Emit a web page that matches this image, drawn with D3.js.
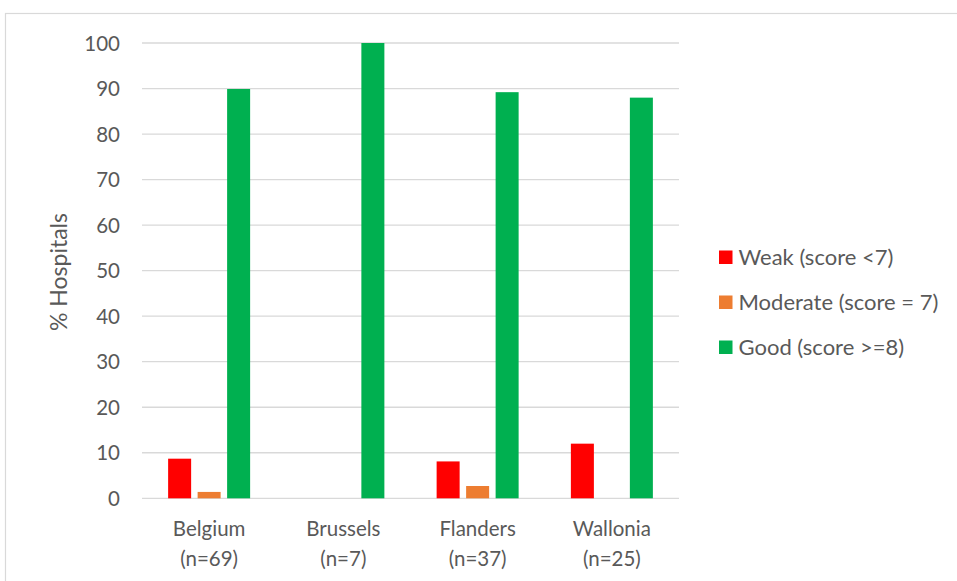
<!DOCTYPE html>
<html>
<head>
<meta charset="utf-8">
<script src="https://cdn.jsdelivr.net/npm/d3@7"></script>
<style>
  html, body { margin: 0; padding: 0; background: #fff; }
  svg { display: block; }
  text { font-family: Lato, "Open Sans", sans-serif; fill: #595959; }
</style>
</head>
<body>
<svg id="chart" width="957" height="581"></svg>
<script>
// Hospital scores by region (% of hospitals)
const regions = ["Belgium", "Brussels", "Flanders", "Wallonia"];
const regionCounts = ["(n=69)", "(n=7)", "(n=37)", "(n=25)"];
const seriesNames = ["Weak (score <7)", "Moderate (score = 7)", "Good (score >=8)"];
const weak = [8.7, 0, 8.1, 12];
const moderate = [1.4, 0, 2.7, 0];
const good = [89.9, 100, 89.2, 88];
const seriesColors = ["#FF0000", "#ED7D31", "#00B050"];
const yTicks = [0, 10, 20, 30, 40, 50, 60, 70, 80, 90, 100];

const seriesValues = [weak, moderate, good];

const svg = d3.select("#chart");

// Outer frame
svg.append("rect")
  .attr("x", 5.5).attr("y", 13.5)
  .attr("width", 1000).attr("height", 1000)
  .attr("fill", "none")
  .attr("stroke", "#d9d9d9")
  .attr("stroke-width", 1.2);

const plot = { left: 142, right: 679, top: 43, bottom: 498.3 };

const y = d3.scaleLinear().domain([0, 100]).range([plot.bottom, plot.top]);
const x0 = d3.scaleBand().domain(regions).range([plot.left, plot.right]).padding(0);
const groupWidth = 82;
const x1 = d3.scaleBand()
  .domain(seriesNames)
  .range([(x0.bandwidth() - groupWidth) / 2, (x0.bandwidth() + groupWidth) / 2])
  .paddingInner(0.22)
  .paddingOuter(0);

// Gridlines
svg.append("g")
  .selectAll("line")
  .data(yTicks)
  .join("line")
  .attr("x1", plot.left).attr("x2", plot.right)
  .attr("y1", d => y(d)).attr("y2", d => y(d))
  .attr("stroke", "#d9d9d9")
  .attr("stroke-width", 1.3);

// Y axis labels
const yAxis = d3.axisLeft(y).tickValues(yTicks).tickSize(0).tickPadding(0);
const yG = svg.append("g")
  .attr("transform", `translate(120,0)`)
  .call(yAxis);
yG.select(".domain").remove();
yG.selectAll("text")
  .attr("font-size", 20.5)
  .attr("font-family", "Lato, 'Open Sans', sans-serif")
  .attr("fill", "#595959")
  .attr("dy", "0.35em");

// Y axis title
svg.append("text")
  .attr("transform", "translate(67,272) rotate(-90)")
  .attr("text-anchor", "middle")
  .attr("font-size", 23)
  .text("% Hospitals");

// Bars
const groups = svg.append("g")
  .selectAll("g")
  .data(regions)
  .join("g")
  .attr("transform", d => `translate(${x0(d)},0)`);

groups.selectAll("rect")
  .data((d, i) => seriesNames.map((s, j) => ({ s, v: seriesValues[j][i], c: seriesColors[j] })))
  .join("rect")
  .filter(d => d.v > 0)
  .attr("x", d => x1(d.s))
  .attr("width", x1.bandwidth())
  .attr("y", d => y(d.v))
  .attr("height", d => y(0) - y(d.v))
  .attr("fill", d => d.c);

// Category labels (two lines)
const xLabels = svg.append("g")
  .selectAll("text")
  .data(regions)
  .join("text")
  .attr("text-anchor", "middle")
  .attr("font-size", 20.5)
  .attr("x", d => x0(d) + x0.bandwidth() / 2);
xLabels.append("tspan")
  .attr("x", d => x0(d) + x0.bandwidth() / 2)
  .attr("y", 536)
  .text(d => d);
xLabels.append("tspan")
  .attr("x", d => x0(d) + x0.bandwidth() / 2)
  .attr("y", 566)
  .text((d, i) => regionCounts[i]);

// Legend
const legend = svg.append("g")
  .selectAll("g")
  .data(seriesNames)
  .join("g")
  .attr("transform", (d, i) => `translate(719,${257 + i * 45})`);
legend.append("rect")
  .attr("x", 0).attr("y", -6.5)
  .attr("width", 13.5).attr("height", 13.5)
  .attr("fill", (d, i) => seriesColors[i]);
legend.append("text")
  .attr("x", 19.5)
  .attr("y", 0)
  .attr("dy", "0.35em")
  .attr("font-size", 22)
  .text(d => d);
</script>
</body>
</html>
